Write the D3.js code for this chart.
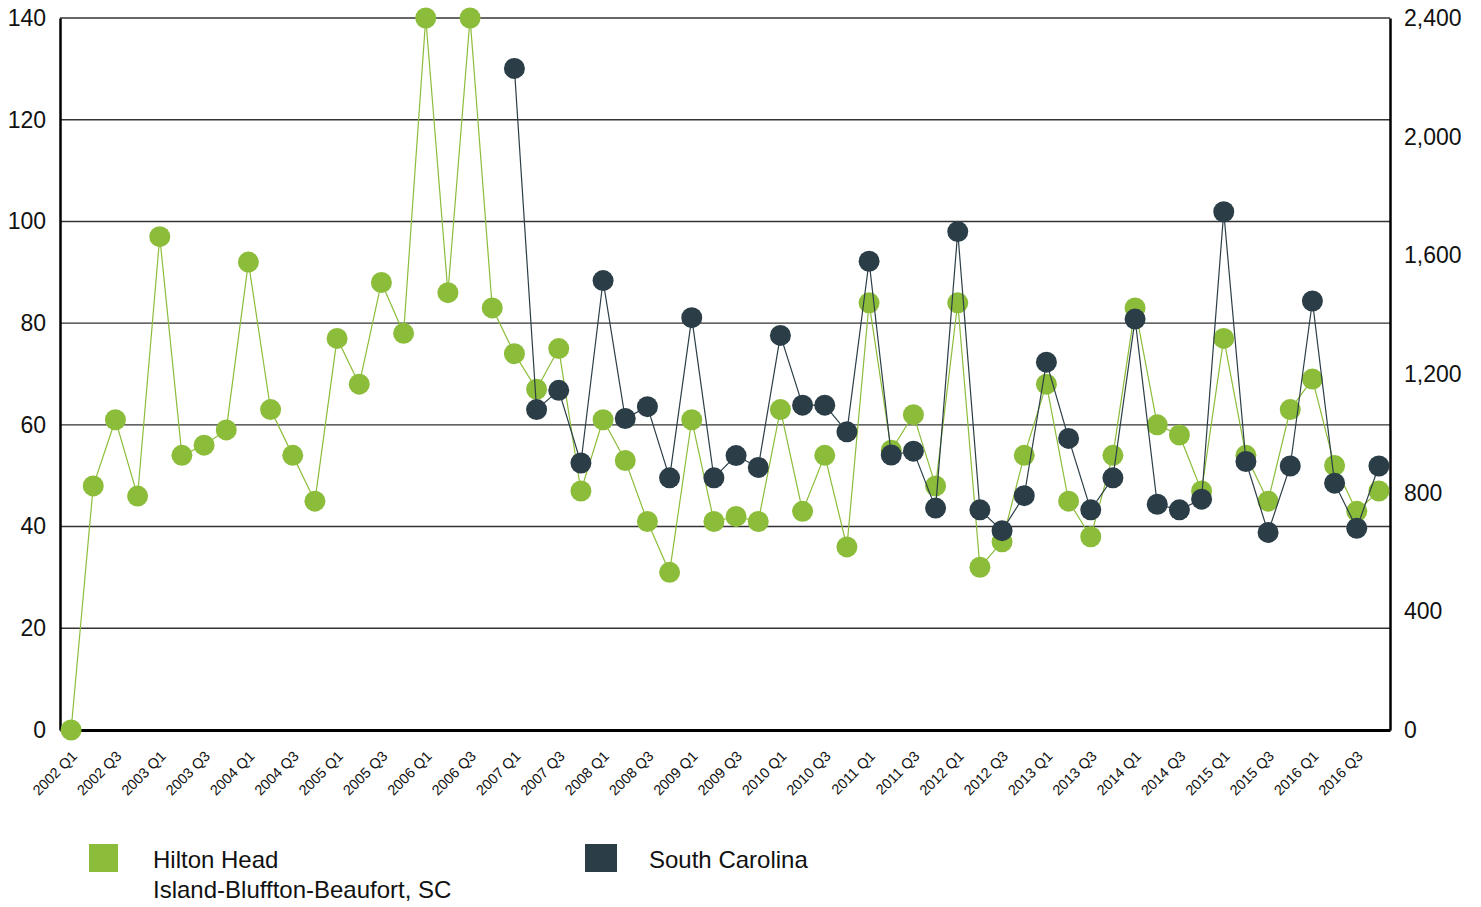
<!DOCTYPE html>
<html>
<head>
<meta charset="utf-8">
<script src="https://cdn.jsdelivr.net/npm/d3@7"></script>
<style>
    body { margin: 0; background: #fff; }
    text { font-family: "Liberation Sans", Arial, sans-serif; fill: #111; }
    .grid line { stroke: #333; stroke-width: 1.4; }
    .tick_label { font-size: 23px; }
    .x_label { font-size: 14.5px; }
    .legend_text { font-size: 24px; }
</style>
</head>
<body>
<div id="chart"></div>
<script>
const quarters = [
    "2002 Q1", "2002 Q2", "2002 Q3", "2002 Q4", "2003 Q1", "2003 Q2", "2003 Q3", "2003 Q4",
    "2004 Q1", "2004 Q2", "2004 Q3", "2004 Q4", "2005 Q1", "2005 Q2", "2005 Q3", "2005 Q4",
    "2006 Q1", "2006 Q2", "2006 Q3", "2006 Q4", "2007 Q1", "2007 Q2", "2007 Q3", "2007 Q4",
    "2008 Q1", "2008 Q2", "2008 Q3", "2008 Q4", "2009 Q1", "2009 Q2", "2009 Q3", "2009 Q4",
    "2010 Q1", "2010 Q2", "2010 Q3", "2010 Q4", "2011 Q1", "2011 Q2", "2011 Q3", "2011 Q4",
    "2012 Q1", "2012 Q2", "2012 Q3", "2012 Q4", "2013 Q1", "2013 Q2", "2013 Q3", "2013 Q4",
    "2014 Q1", "2014 Q2", "2014 Q3", "2014 Q4", "2015 Q1", "2015 Q2", "2015 Q3", "2015 Q4",
    "2016 Q1", "2016 Q2", "2016 Q3", "2016 Q4"
];

// left axis series (Hilton Head Island-Bluffton-Beaufort, SC)
const hilton_head = [
    0, 48, 61, 46, 97, 54, 56, 59, 92, 63, 54, 45, 77, 68, 88, 78,
    140, 86, 140, 83, 74, 67, 75, 47, 61, 53, 41, 31, 61, 41, 42, 41,
    63, 43, 54, 36, 84, 55, 62, 48, 84, 32, 37, 54, 68, 45, 38, 54,
    83, 60, 58, 47, 77, 54, 45, 63, 69, 52, 43, 47
];

// right axis series (South Carolina), starts 2007 Q1
const sc_start = "2007 Q1";
const south_carolina = [
    2230, 1080, 1145, 900, 1515, 1050, 1090, 850, 1390, 850, 925, 885,
    1330, 1095, 1095, 1005, 1580, 927, 940, 748, 1680, 742, 672, 790,
    1240, 983, 742, 850, 1385, 761, 742, 778, 1747, 905, 666, 890,
    1446, 832, 680, 890
];

const left_ticks = [0, 20, 40, 60, 80, 100, 120, 140];
const right_ticks = [0, 400, 800, 1200, 1600, 2000, 2400];

const green = "#8cbd3a", dark = "#2b3e47";

const margin = {top: 18, right: 91, bottom: 177, left: 60};
const width = 1481 - margin.left - margin.right,
    height = 907 - margin.top - margin.bottom;

let svg = d3.select("#chart")
    .append("svg")
    .attr("width", 1481)
    .attr("height", 907)
    .append("g")
    .attr("transform", "translate(" + margin.left + "," + margin.top + ")");

let x = d3.scaleBand()
    .domain(quarters)
    .range([0, width]);
const cx = function (q) { return x(q) + x.bandwidth() / 2; };

let y_left = d3.scaleLinear().domain([0, 140]).range([height, 0]);
let y_right = d3.scaleLinear().domain([0, 2400]).range([height, 0]);

// gridlines
svg.append("g")
    .attr("class", "grid")
    .selectAll("line")
    .data(left_ticks.slice(1))
    .join("line")
    .attr("x1", 0)
    .attr("x2", width)
    .attr("y1", d => y_left(d))
    .attr("y2", d => y_left(d));

// left axis
let gl = svg.append("g")
    .call(d3.axisLeft(y_left)
        .tickValues(left_ticks)
        .tickSizeInner(0)
        .tickSizeOuter(0)
        .tickPadding(14));
gl.select(".domain").attr("stroke", "#000").attr("stroke-width", 2.5);
gl.selectAll("text").attr("class", "tick_label");

// right axis
let gr = svg.append("g")
    .attr("transform", "translate(" + width + ",0)")
    .call(d3.axisRight(y_right)
        .tickValues(right_ticks)
        .tickSizeInner(0)
        .tickSizeOuter(0)
        .tickPadding(14)
        .tickFormat(d3.format(",")));
gr.select(".domain").attr("stroke", "#000").attr("stroke-width", 2.5);
gr.selectAll("text").attr("class", "tick_label");

// bottom axis
let gb = svg.append("g")
    .attr("transform", "translate(0," + height + ")")
    .call(d3.axisBottom(x)
        .tickValues(quarters.filter(q => /Q[13]$/.test(q)))
        .tickSizeInner(0)
        .tickSizeOuter(0)
        .tickFormat(""));
gb.select(".domain").attr("stroke", "#000").attr("stroke-width", 3);

gb.selectAll(".tick")
    .append("text")
    .attr("class", "x_label")
    .attr("text-anchor", "end")
    .attr("transform", "translate(7,27) rotate(-45)")
    .text(d => d);

// Hilton Head series
const hh = quarters.map((q, i) => ({q: q, v: hilton_head[i]}));
svg.append("path")
    .datum(hh)
    .attr("fill", "none")
    .attr("stroke", green)
    .attr("stroke-width", 1.2)
    .attr("d", d3.line()
        .x(d => cx(d.q))
        .y(d => y_left(d.v)));
svg.append("g")
    .selectAll("circle")
    .data(hh)
    .join("circle")
    .attr("cx", d => cx(d.q))
    .attr("cy", d => y_left(d.v))
    .attr("r", 10.5)
    .attr("fill", green);

// South Carolina series
const off = quarters.indexOf(sc_start);
const sc = south_carolina.map((v, i) => ({q: quarters[off + i], v: v}));
svg.append("path")
    .datum(sc)
    .attr("fill", "none")
    .attr("stroke", dark)
    .attr("stroke-width", 1.2)
    .attr("d", d3.line()
        .x(d => cx(d.q))
        .y(d => y_right(d.v)));
svg.append("g")
    .selectAll("circle")
    .data(sc)
    .join("circle")
    .attr("cx", d => cx(d.q))
    .attr("cy", d => y_right(d.v))
    .attr("r", 10.5)
    .attr("fill", dark);

// legend
const root = d3.select("#chart svg");
root.append("rect")
    .attr("x", 89).attr("y", 844)
    .attr("width", 29).attr("height", 28)
    .attr("fill", green);
root.append("text")
    .attr("class", "legend_text")
    .attr("x", 153).attr("y", 868)
    .text("Hilton Head");
root.append("text")
    .attr("class", "legend_text")
    .attr("x", 153).attr("y", 898)
    .text("Island-Bluffton-Beaufort, SC");
root.append("rect")
    .attr("x", 585).attr("y", 844)
    .attr("width", 32).attr("height", 28)
    .attr("fill", dark);
root.append("text")
    .attr("class", "legend_text")
    .attr("x", 649).attr("y", 868)
    .text("South Carolina");
</script>
</body>
</html>
